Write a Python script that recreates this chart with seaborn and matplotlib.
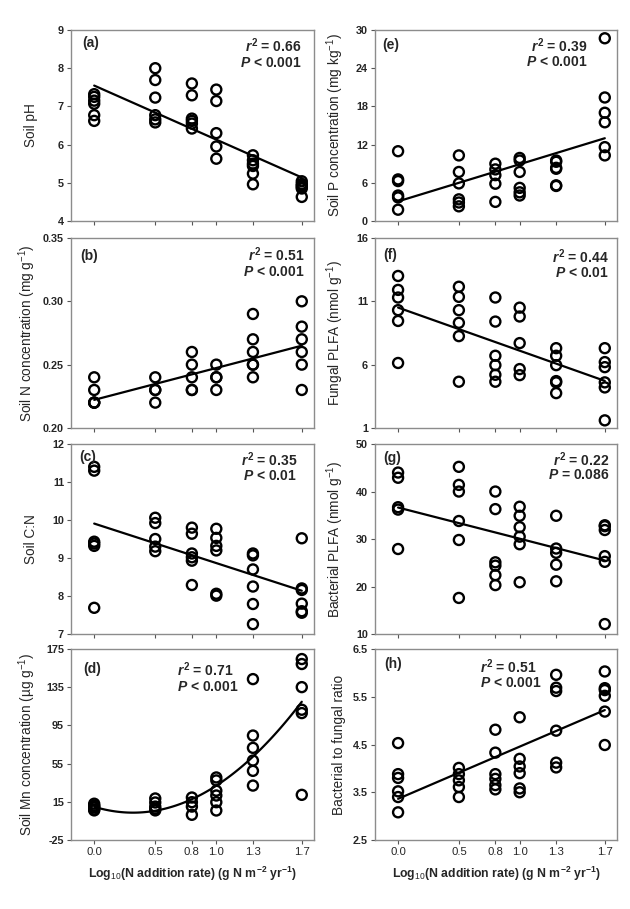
import matplotlib
matplotlib.use("Agg")
import matplotlib.pyplot as plt
import numpy as np
import pandas as pd
import seaborn as sns

# log10 N addition levels (x positions of each treatment group)
n_levels = [0.0, 0.5, 0.8, 1.0, 1.3, 1.7]
tick_labels = ["0.0", "0.5", "0.8", "1.0", "1.3", "1.7"]

# replicate values, one list per N level
soil_ph = [[7.32, 7.25, 7.15, 7.07, 6.77, 6.62],
           [8.00, 7.69, 7.23, 6.77, 6.66, 6.58],
           [7.60, 7.29, 6.68, 6.62, 6.55, 6.42],
           [7.44, 7.14, 6.30, 5.95, 5.63],
           [5.72, 5.59, 5.50, 5.44, 5.24, 4.96],
           [5.04, 4.97, 4.93, 4.89, 4.85, 4.63]]
soil_n = [[0.24, 0.23, 0.22, 0.22, 0.22],
          [0.24, 0.23, 0.23, 0.22],
          [0.26, 0.25, 0.24, 0.23, 0.23],
          [0.25, 0.24, 0.23, 0.24],
          [0.29, 0.27, 0.26, 0.25, 0.24, 0.25],
          [0.30, 0.28, 0.27, 0.26, 0.25, 0.23]]
soil_cn = [[11.40, 11.30, 9.43, 9.32, 9.38, 7.69],
           [10.06, 9.92, 9.50, 9.30, 9.18],
           [9.80, 9.64, 9.12, 9.02, 8.93, 8.29],
           [9.77, 9.53, 9.32, 9.20, 8.06, 8.01],
           [9.12, 9.07, 8.70, 8.25, 7.79, 7.26],
           [9.52, 8.20, 8.16, 7.80, 7.60, 7.56]]
soil_mn = [[13.0, 11.0, 10.0, 9.0, 7.0, 6.0],
           [18.5, 14.3, 10.0, 7.7, 6.0],
           [19.5, 14.6, 10.0, 1.4],
           [40.5, 37.4, 26.6, 21.6, 14.6, 5.9],
           [143.5, 84.4, 71.5, 58.2, 47.4, 32.0],
           [164.5, 159.3, 135.1, 111.4, 107.9, 22.3]]
soil_p = [[10.96, 6.53, 6.27, 4.00, 3.70, 1.77],
          [10.30, 7.70, 5.90, 3.40, 2.90, 2.30],
          [9.00, 8.10, 7.20, 5.85, 3.00],
          [9.90, 9.50, 7.70, 5.20, 4.50, 4.00],
          [9.50, 9.30, 8.35, 8.20, 5.60, 5.50],
          [28.70, 19.40, 17.00, 15.50, 11.60, 10.30]]
fungal_plfa = [[13.0, 11.9, 11.3, 10.3, 9.45, 6.13],
               [12.15, 11.35, 10.3, 9.3, 8.25, 4.65],
               [11.3, 9.4, 6.7, 5.96, 5.2, 4.65],
               [10.5, 9.8, 7.7, 5.65, 5.17],
               [7.3, 6.7, 5.96, 4.7, 4.6, 3.75],
               [7.3, 6.2, 5.8, 4.6, 4.2, 1.6]]
bacterial_plfa = [[44.0, 42.9, 36.7, 36.2, 27.9],
                  [45.2, 41.4, 40.0, 33.8, 29.8, 17.6],
                  [40.0, 36.3, 25.1, 24.4, 22.4, 20.3],
                  [36.8, 34.9, 32.5, 30.5, 28.9, 20.9],
                  [34.9, 28.0, 27.1, 24.6, 21.1],
                  [32.9, 32.7, 31.9, 26.4, 25.2, 12.1]]
bf_ratio = [[4.53, 3.88, 3.80, 3.52, 3.40, 3.08],
            [4.01, 3.88, 3.75, 3.61, 3.40],
            [4.81, 4.33, 3.88, 3.78, 3.65, 3.56],
            [5.07, 4.20, 4.04, 3.90, 3.58, 3.50],
            [5.96, 5.69, 5.62, 4.79, 4.12, 4.02],
            [6.03, 5.68, 5.64, 5.52, 5.19, 4.49]]

r2_text = ["0.66", "0.51", "0.35", "0.71", "0.39", "0.44", "0.22", "0.51"]
p_text = ["< 0.001", "< 0.001", "< 0.01", "< 0.001", "< 0.001", "< 0.01", "= 0.086", "< 0.001"]
panel_tags = ["(a)", "(b)", "(c)", "(d)", "(e)", "(f)", "(g)", "(h)"]
y_labels = ["Soil pH",
            r"Soil N concentration (mg g$^{-1}$)",
            "Soil C:N",
            r"Soil Mn concentration (µg g$^{-1}$)",
            r"Soil P concentration (mg kg$^{-1}$)",
            r"Fungal PLFA (nmol g$^{-1}$)",
            r"Bacterial PLFA (nmol g$^{-1}$)",
            "Bacterial to fungal ratio"]
y_ticks = [[4, 5, 6, 7, 8, 9],
           [0.20, 0.25, 0.30, 0.35],
           [7, 8, 9, 10, 11, 12],
           [-25, 15, 55, 95, 135, 175],
           [0, 6, 12, 18, 24, 30],
           [1, 6, 11, 16],
           [10, 20, 30, 40, 50],
           [2.5, 3.5, 4.5, 5.5, 6.5]]
y_tick_fmt = ["{:.0f}", "{:.2f}", "{:.0f}", "{:.0f}", "{:.0f}", "{:.0f}", "{:.0f}", "{:.1f}"]
fit_order = [1, 1, 1, 2, 1, 1, 1, 1]
panels = [soil_ph, soil_n, soil_cn, soil_mn, soil_p, fungal_plfa, bacterial_plfa, bf_ratio]


def to_frame(groups):
    rows = []
    for level, vals in zip(n_levels, groups):
        for v in vals:
            rows.append({"x": level, "y": v})
    return pd.DataFrame(rows)


sns.set_theme(style="white")
plt.rcParams["font.family"] = ["Liberation Sans", "DejaVu Sans"]
plt.rcParams["mathtext.fontset"] = "custom"
plt.rcParams["mathtext.rm"] = "Liberation Sans"
plt.rcParams["mathtext.it"] = "Liberation Sans:italic:bold"
plt.rcParams["mathtext.bf"] = "Liberation Sans:bold"

fig = plt.figure(figsize=(6.3, 9.09), dpi=100)

# axes boxes (left, bottom, width, height) in figure fraction
col_x = [(0.1127, 0.3857), (0.5952, 0.3841)]
row_y = [(0.7569, 0.2101), (0.5292, 0.2090), (0.3025, 0.2090), (0.0759, 0.2101)]

# annotation placement in axes fraction
stat_pos = [(0.947, 0.916, 0.829, "right"), (0.959, 0.91, 0.82, "right"),
            (0.93, 0.92, 0.83, "right"), (0.436, 0.89, 0.80, "left"),
            (0.876, 0.92, 0.834, "right"), (0.967, 0.90, 0.817, "right"),
            (0.967, 0.92, 0.837, "right"), (0.434, 0.905, 0.82, "left")]
tag_pos = [(0.045, 0.93), (0.037, 0.907), (0.033, 0.93), (0.05, 0.895),
           (0.03, 0.92), (0.033, 0.91), (0.033, 0.926), (0.037, 0.92)]

for i, groups in enumerate(panels):
    col, row = divmod(i, 4)
    left, width = col_x[col]
    bottom, height = row_y[row]
    ax = fig.add_axes([left, bottom, width, height])
    df = to_frame(groups)

    sns.scatterplot(data=df, x="x", y="y", ax=ax, s=52, facecolor="none",
                    edgecolor="black", linewidth=1.7, zorder=3)
    sns.regplot(data=df, x="x", y="y", ax=ax, scatter=False, ci=None,
                order=fit_order[i], color="black", line_kws={"linewidth": 1.6})

    ax.set_xlim(-0.19, 1.8)
    yt = y_ticks[i]
    ax.set_ylim(yt[0], yt[-1])
    ax.set_yticks(yt)
    ax.set_yticklabels([y_tick_fmt[i].format(v) for v in yt], fontsize=7.8,
                       fontweight="bold")
    ax.set_xticks(n_levels)
    if row == 3:
        ax.set_xticklabels(tick_labels, fontsize=8.2)
        ax.set_xlabel(r"Log$_{10}$(N addition rate) (g N m$^{\mathbf{-2}}$ yr$^{\mathbf{-1}}$)",
                      fontsize=8.8, fontweight="bold", labelpad=6)
    else:
        ax.set_xticklabels([])
        ax.set_xlabel("")
    ax.set_ylabel(y_labels[i], fontsize=9.8)
    ax.yaxis.set_label_coords(-0.135 if col == 0 else -0.118, 0.5)

    ax.tick_params(axis="both", direction="out", length=3, width=0.8,
                   color="#555555", pad=2, bottom=True, left=True)
    for spine in ax.spines.values():
        spine.set_color("#8c8c8c")
        spine.set_linewidth(1.0)

    sx, ry, py, ha = stat_pos[i]
    ax.text(sx, ry, r"$\mathit{r}^{\mathbf{2}}$ = " + r2_text[i], transform=ax.transAxes,
            ha=ha, va="center", fontsize=10, fontweight="bold")
    ax.text(sx, py, r"$\mathit{P}$ " + p_text[i], transform=ax.transAxes,
            ha=ha, va="center", fontsize=10, fontweight="bold")
    tx, ty = tag_pos[i]
    ax.text(tx, ty, panel_tags[i], transform=ax.transAxes, ha="left", va="center",
            fontsize=10, fontweight="bold")

fig.savefig("out.png", dpi=100)
